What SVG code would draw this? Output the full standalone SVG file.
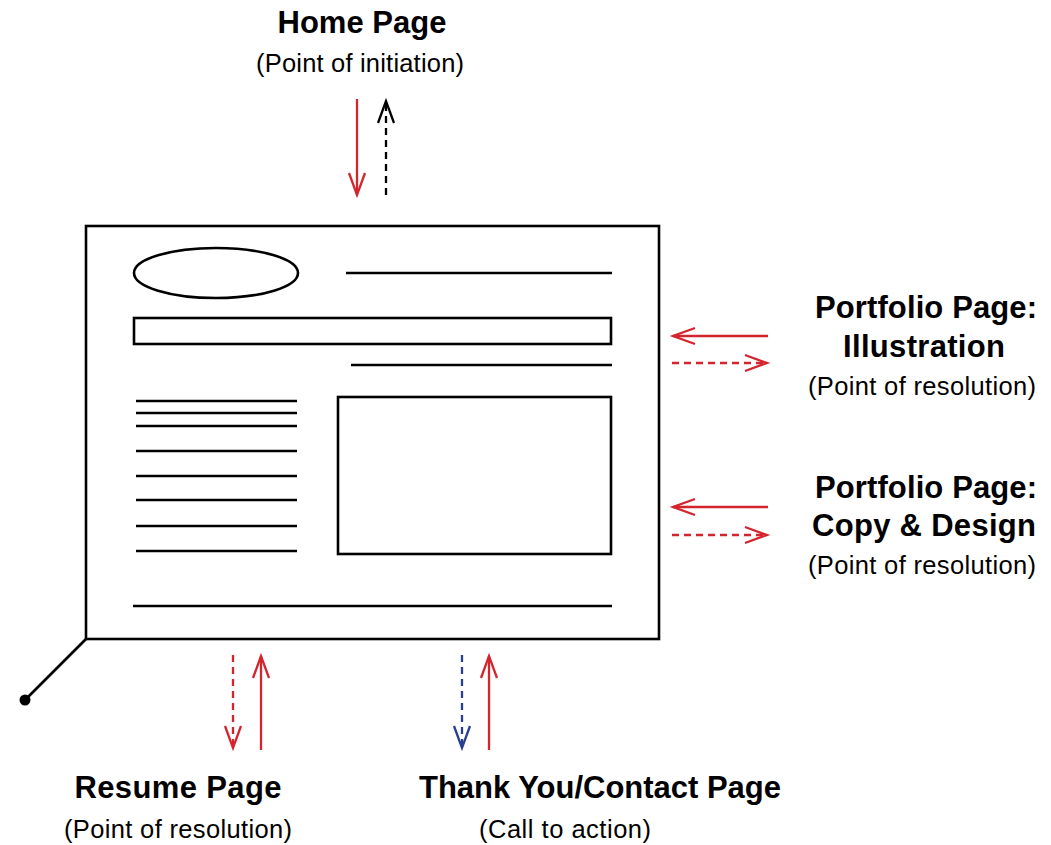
<svg xmlns="http://www.w3.org/2000/svg" width="1051" height="845" viewBox="0 0 1051 845">
  <style>
    .title { font-family: "Liberation Sans", Arial, sans-serif; font-weight: bold; font-size: 31px; fill: #000; text-anchor: middle; }
    .sub { font-family: "Liberation Sans", Arial, sans-serif; font-size: 25.5px; fill: #000; text-anchor: middle; }
    .ink { fill: none; stroke: #000; stroke-width: 2.6; }
    .red { fill: none; stroke: #d4252f; stroke-width: 2.3; }
    .blk { fill: none; stroke: #000; stroke-width: 2.3; }
    .blu { fill: none; stroke: #2a3e92; stroke-width: 2.3; }
    .dash { stroke-dasharray: 7 5; }
  </style>
  <defs>
    <marker id="head-red" markerUnits="userSpaceOnUse" orient="auto" markerWidth="30" markerHeight="30" refX="0" refY="0" viewBox="-26 -13 30 26" overflow="visible">
      <path d="M-22,-8 L0,0 L-22,8" fill="none" stroke="#d4252f" stroke-width="2.3"/>
    </marker>
    <marker id="head-blk" markerUnits="userSpaceOnUse" orient="auto" markerWidth="30" markerHeight="30" refX="0" refY="0" viewBox="-26 -13 30 26" overflow="visible">
      <path d="M-22,-8 L0,0 L-22,8" fill="none" stroke="#000" stroke-width="2.3"/>
    </marker>
    <marker id="head-blu" markerUnits="userSpaceOnUse" orient="auto" markerWidth="30" markerHeight="30" refX="0" refY="0" viewBox="-26 -13 30 26" overflow="visible">
      <path d="M-22,-8 L0,0 L-22,8" fill="none" stroke="#2a3e92" stroke-width="2.3"/>
    </marker>
  </defs>
  <rect width="1051" height="845" fill="#fff"/>

  <!-- page wireframe -->
  <g id="page">
    <rect class="ink" x="86" y="226" width="573" height="413"/>
    <ellipse class="ink" cx="216" cy="273" rx="82" ry="25"/>
    <line class="ink" x1="346" y1="273" x2="612" y2="273"/>
    <rect class="ink" x="134" y="318" width="477" height="26"/>
    <line class="ink" x1="351" y1="365" x2="612" y2="365"/>
    <g id="text-column">
      <line class="ink" x1="136" y1="401" x2="297" y2="401"/>
      <line class="ink" x1="136" y1="413" x2="297" y2="413"/>
      <line class="ink" x1="136" y1="426" x2="297" y2="426"/>
      <line class="ink" x1="136" y1="451" x2="297" y2="451"/>
      <line class="ink" x1="136" y1="476" x2="297" y2="476"/>
      <line class="ink" x1="136" y1="500" x2="297" y2="500"/>
      <line class="ink" x1="136" y1="526" x2="297" y2="526"/>
      <line class="ink" x1="136" y1="551" x2="297" y2="551"/>
    </g>
    <rect class="ink" x="338" y="397" width="273" height="157"/>
    <line class="ink" x1="133" y1="606" x2="612" y2="606"/>
    <line class="ink" x1="86" y1="639" x2="25" y2="700"/>
    <circle cx="25" cy="700" r="5.5" fill="#000"/>
  </g>

  <!-- destination labels -->
  <g id="home">
    <text class="title" x="362" y="33" textLength="169" lengthAdjust="spacing">Home Page</text>
    <text class="sub" x="360" y="72" textLength="208" lengthAdjust="spacing">(Point of initiation)</text>
  </g>
  <g id="portfolio-illustration">
    <text class="title" x="926" y="318" textLength="222" lengthAdjust="spacing">Portfolio Page:</text>
    <text class="title" x="924" y="357" textLength="162" lengthAdjust="spacing">Illustration</text>
    <text class="sub" x="922" y="395" textLength="228" lengthAdjust="spacing">(Point of resolution)</text>
  </g>
  <g id="portfolio-copy">
    <text class="title" x="926" y="498" textLength="222" lengthAdjust="spacing">Portfolio Page:</text>
    <text class="title" x="924" y="536" textLength="224" lengthAdjust="spacing">Copy &amp; Design</text>
    <text class="sub" x="922" y="574" textLength="228" lengthAdjust="spacing">(Point of resolution)</text>
  </g>
  <g id="resume">
    <text class="title" x="178" y="798" textLength="207" lengthAdjust="spacing">Resume Page</text>
    <text class="sub" x="178" y="838" textLength="228" lengthAdjust="spacing">(Point of resolution)</text>
  </g>
  <g id="contact">
    <text class="title" x="600" y="798" textLength="362" lengthAdjust="spacing">Thank You/Contact Page</text>
    <text class="sub" x="565" y="838" textLength="172" lengthAdjust="spacing">(Call to action)</text>
  </g>

  <!-- navigation arrows -->
  <g id="connectors">
    <line class="red" x1="357" y1="99" x2="357" y2="195" marker-end="url(#head-red)"/>
    <line class="blk dash" x1="386" y1="195" x2="386" y2="101" marker-end="url(#head-blk)"/>

    <line class="red" x1="768" y1="336" x2="673" y2="336" marker-end="url(#head-red)"/>
    <line class="red dash" x1="672" y1="363" x2="767" y2="363" marker-end="url(#head-red)"/>

    <line class="red" x1="768" y1="507" x2="673" y2="507" marker-end="url(#head-red)"/>
    <line class="red dash" x1="672" y1="535" x2="767" y2="535" marker-end="url(#head-red)"/>

    <line class="red dash" x1="233" y1="655" x2="233" y2="748" marker-end="url(#head-red)"/>
    <line class="red" x1="261" y1="750" x2="261" y2="656" marker-end="url(#head-red)"/>

    <line class="blu dash" x1="462" y1="655" x2="462" y2="748" marker-end="url(#head-blu)"/>
    <line class="red" x1="489" y1="750" x2="489" y2="656" marker-end="url(#head-red)"/>
  </g>
</svg>
